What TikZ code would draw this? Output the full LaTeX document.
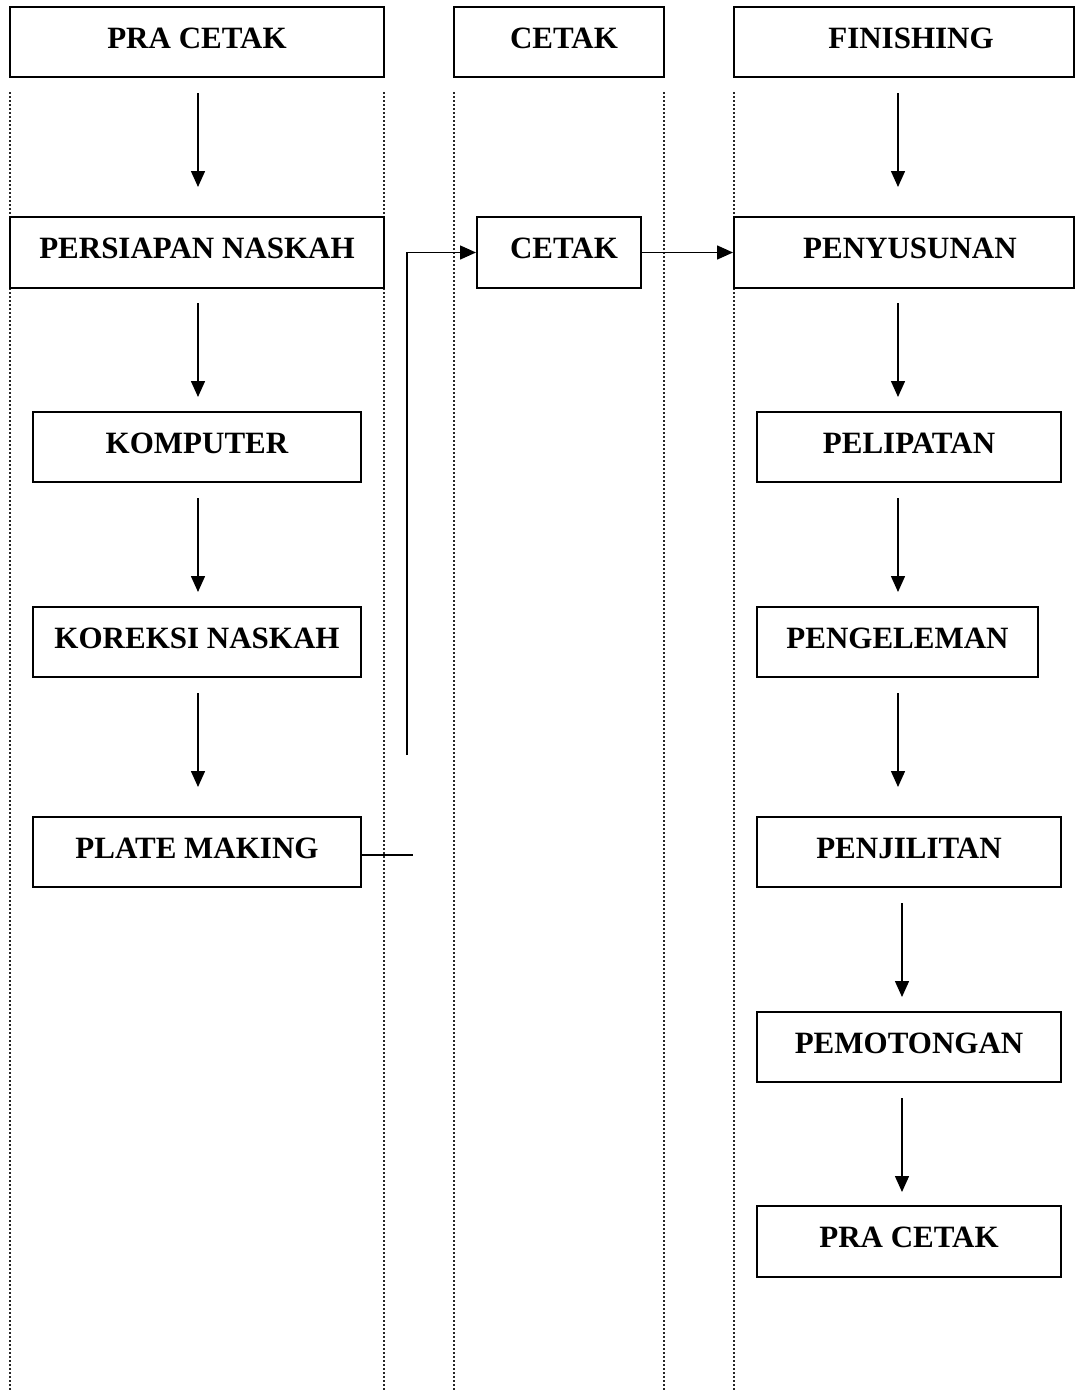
\documentclass[tikz,border=0pt]{standalone}
\usepackage{fontspec}
\setmainfont{Liberation Serif}
\usetikzlibrary{arrows.meta}
\begin{document}
\begin{tikzpicture}[x=0.5pt,y=-0.5pt,
  box/.style={draw,line width=1pt,fill=white,minimum height=35pt,inner sep=0pt,
    text height=10.3pt,text depth=4.3pt,font=\fontsize{15.5pt}{18pt}\selectfont\bfseries},
  arr/.style={line width=0.75pt,-{Triangle[length=8pt,width=7pt]}},
  conn/.style={line width=0.75pt},
  lane/.style={line width=0.6pt,black!85,dash pattern=on 1pt off 1pt}]
\useasboundingbox (0,0) rectangle (1075,1392);
% lane separators
\foreach \xx in {10,384,454,664,734}
  \draw[lane] (\xx,92) -- (\xx,1392);
% column reference coordinates
\coordinate (colL) at (198,0);
\coordinate (colR) at (898,0);
\coordinate (colR2) at (902,0);
% headers
\node[box,minimum width=187pt] (hPRA) at (197,42) {PRA CETAK};
\node[box,minimum width=105pt] (hCET) at (559,42) {\hspace*{5pt}CETAK};
\node[box,minimum width=170pt] (hFIN) at (904,42) {\hspace*{7pt}FINISHING};
% left column
\node[box,minimum width=187pt,minimum height=35.5pt] (persiapan) at (197,252.5) {PERSIAPAN NASKAH};
\node[box,minimum width=164pt] (komputer) at (197,447) {KOMPUTER};
\node[box,minimum width=164pt] (koreksi) at (197,642) {KOREKSI NASKAH};
\node[box,minimum width=164pt] (plate) at (197,852) {PLATE MAKING};
% middle
\node[box,minimum width=82pt,minimum height=35.5pt] (cetak) at (559,252.5) {\hspace*{5pt}CETAK};
% right column
\node[box,minimum width=170pt,minimum height=35.5pt] (penyusunan) at (904,252.5) {\hspace*{6pt}PENYUSUNAN};
\node[box,minimum width=152pt] (pelipatan) at (909,447) {PELIPATAN};
\node[box,minimum width=140.5pt] (pengeleman) at (897.5,642) {PENGELEMAN};
\node[box,minimum width=152pt] (penjilitan) at (909,852) {PENJILITAN};
\node[box,minimum width=152pt] (pemotongan) at (909,1047) {PEMOTONGAN};
\node[box,minimum width=152pt,minimum height=35.5pt] (pracetak) at (909,1241.5) {PRA CETAK};
% left arrows
\draw[arr] ([yshift=-7.5pt]hPRA.south -| colL) -- ++(0,94);
\draw[arr] ([yshift=-7pt]persiapan.south -| colL) -- ++(0,94);
\draw[arr] ([yshift=-7.5pt]komputer.south -| colL) -- ++(0,94);
\draw[arr] ([yshift=-7.5pt]koreksi.south -| colL) -- ++(0,94);
% right arrows
\draw[arr] ([yshift=-7.5pt]hFIN.south -| colR) -- ++(0,94);
\draw[arr] ([yshift=-7pt]penyusunan.south -| colR) -- ++(0,94);
\draw[arr] ([yshift=-7.5pt]pelipatan.south -| colR) -- ++(0,94);
\draw[arr] ([yshift=-7.5pt]pengeleman.south -| colR) -- ++(0,94);
\draw[arr] ([yshift=-7.5pt]penjilitan.south -| colR2) -- ++(0,94);
\draw[arr] ([yshift=-7.5pt]pemotongan.south -| colR2) -- ++(0,94);
% cross connectors
\draw[conn] ([yshift=-1.5pt]plate.east) -- ++(51,0);
\coordinate (feedup) at (407,755);
\draw[arr] (feedup) |- (cetak.west);
\draw[arr] (cetak.east) -- (penyusunan.west);
\end{tikzpicture}
\end{document}
